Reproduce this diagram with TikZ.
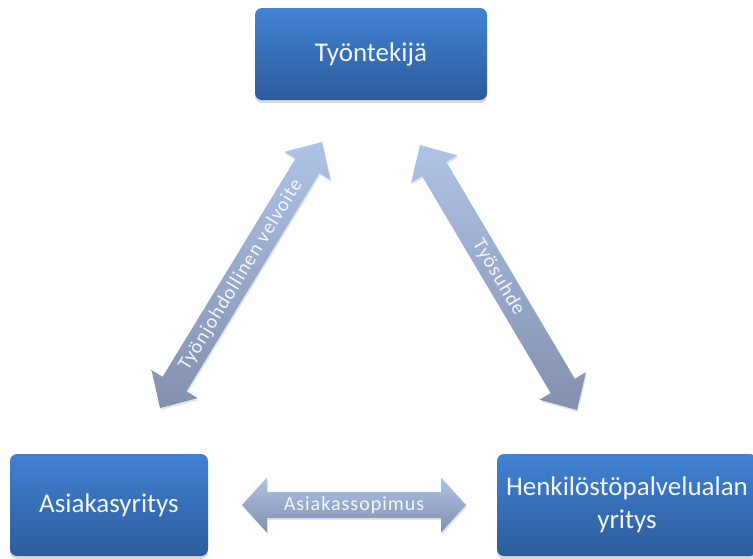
\documentclass[tikz,border=0pt]{standalone}
\usepackage{fontspec}
\setmainfont{Carlito}
\usetikzlibrary{calc,shadows}
\definecolor{boxtop}{HTML}{4282D3}
\definecolor{boxbot}{HTML}{2C5C9C}
\definecolor{arrtop}{HTML}{AEC3E6}
\definecolor{arrbot}{HTML}{8290AE}
\definecolor{txtcol}{HTML}{F2F6FC}
\newcommand{\dblarrow}[5]{%
 \shade[arrowshape] (#1) -- ($(#1)!#3!(#2)!#4!90:(#2)$) -- ($(#1)!#3!(#2)!#5!90:(#2)$)
  -- ($(#2)!#3!(#1)!#5!-90:(#1)$) -- ($(#2)!#3!(#1)!#4!-90:(#1)$) -- (#2)
  -- ($(#2)!#3!(#1)!#4!90:(#1)$) -- ($(#2)!#3!(#1)!#5!90:(#1)$)
  -- ($(#1)!#3!(#2)!#5!-90:(#2)$) -- ($(#1)!#3!(#2)!#4!-90:(#2)$) -- cycle;}
\tikzset{
  box/.style={rounded corners=7pt, top color=boxtop, bottom color=boxbot, draw=none,
    text=txtcol, font=\fontsize{27}{33}\selectfont, align=center, inner sep=0pt,
    drop shadow={opacity=0.3, shadow xshift=0pt, shadow yshift=-3pt}},
  arrowshape/.style={top color=arrtop, bottom color=arrbot, draw=none,
    drop shadow={opacity=0.2, shadow xshift=1pt, shadow yshift=-2pt}},
  arrlabel/.style={text=txtcol, font=\fontsize{20}{22}\selectfont\addfontfeature{LetterSpace=5}, inner sep=0pt}
}
\begin{document}
\begin{tikzpicture}[x=1pt,y=-1pt]
\useasboundingbox (0,0) rectangle (753,558);
\fill[white] (0,0) rectangle (753,558);
\clip (0,0) rectangle (753,558);
% boxes
\node[box, minimum width=232pt, minimum height=92pt] (emp) at (371,54) {Työntekijä};
\node[box, minimum width=198pt, minimum height=102pt] (cust) at (109,505) {Asiakasyritys};
\node[box, minimum width=260pt, minimum height=102pt] (agency) at (627,505) {Henkilöstöpalvelualan\\yritys};
% arrow end points
\coordinate (ba1) at (242,505);
\coordinate (ba2) at (466,505);
\coordinate (la1) at (160,408);
\coordinate (la2) at (322,142);
\coordinate (ra1) at (420,145);
\coordinate (ra2) at (577,410);
% arrows
\dblarrow{ba1}{ba2}{25pt}{27.5pt}{13pt}
\dblarrow{la1}{la2}{28pt}{27pt}{14pt}
\dblarrow{ra1}{ra2}{28pt}{27pt}{14pt}
% labels
\path (ba1) -- (ba2) node[midway, arrlabel] {Asiakassopimus};
\path (la1) -- (la2) node[midway, sloped, arrlabel] {Työnjohdollinen velvoite};
\path (ra1) -- (ra2) node[midway, sloped, arrlabel] {Työsuhde};
\end{tikzpicture}
\end{document}
